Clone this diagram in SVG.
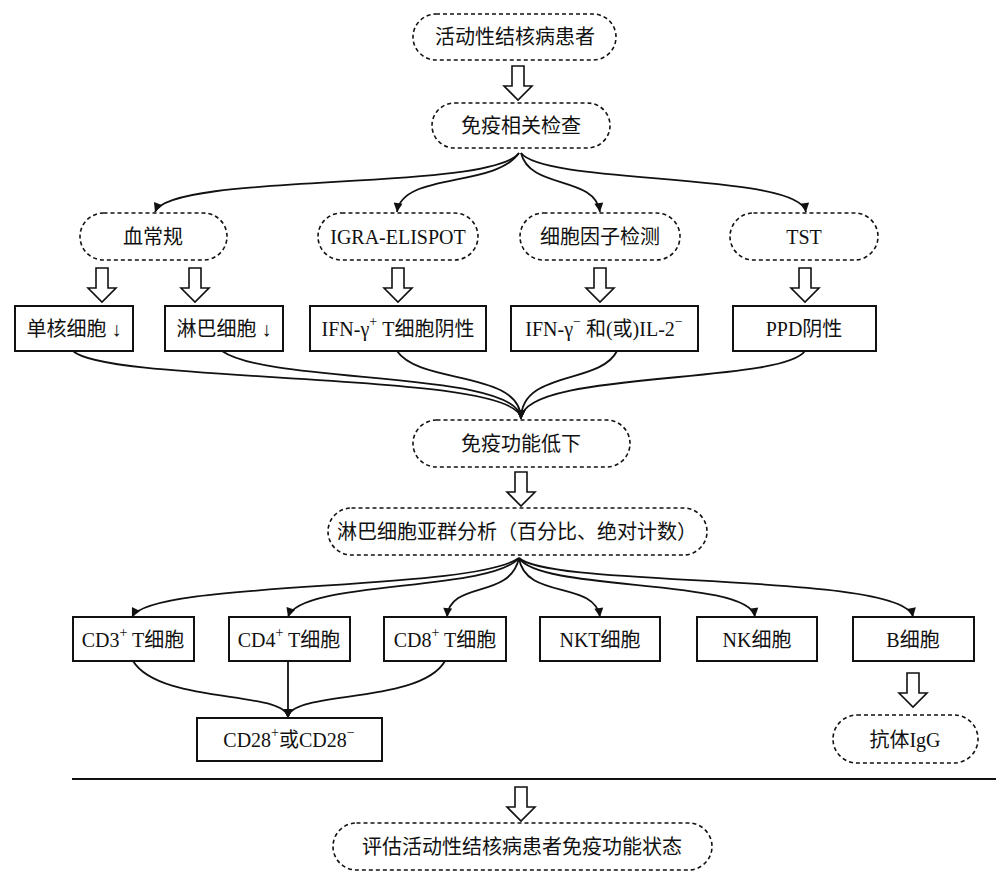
<svg xmlns="http://www.w3.org/2000/svg" xmlns:xlink="http://www.w3.org/1999/xlink" width="996" height="875" viewBox="0 0 996 875">
<style>
text{font-family:"Liberation Serif","Noto Sans CJK SC",serif;font-size:20px;fill:#111;text-anchor:middle;dominant-baseline:central}
.pill{fill:#fff;stroke:#111;stroke-width:1.6;stroke-dasharray:4 3}
.box{fill:#fff;stroke:#111;stroke-width:2}
.edge{fill:none;stroke:#111;stroke-width:1.8;marker-end:url(#ah)}
.hol{fill:#fff;stroke:#111;stroke-width:1.6}
.sup{font-size:14px}
</style>
<defs>
<marker id="ah" viewBox="0 0 10 10" refX="10" refY="5" markerWidth="11" markerHeight="9" markerUnits="userSpaceOnUse" orient="auto">
<path d="M0,0 L10,5 L0,10 Z" fill="#111"/>
</marker>
<path id="hollow" class="hol" d="M-6,0 H6 V20 H14 L0,34 L-14,20 H-6 Z"/>
</defs>
<rect width="996" height="875" fill="#fff"/>

<g id="connectors">
<path class="edge" d="M519,153 C490,192 170,172 155,212"/>
<path class="edge" d="M519,153 C495,188 402,172 397,212"/>
<path class="edge" d="M521,153 C530,190 595,175 600,212"/>
<path class="edge" d="M521,153 C545,185 800,172 806,212"/>
<path class="edge" d="M73,351 C110,385 521,370 521,419"/>
<path class="edge" d="M222,351 C270,385 521,370 521,419"/>
<path class="edge" d="M397,351 C420,385 521,370 521,419"/>
<path class="edge" d="M617,351 C600,385 521,370 521,419"/>
<path class="edge" d="M805,351 C780,385 521,370 521,419"/>
<path class="edge" d="M519,558 C470,592 150,580 132,617"/>
<path class="edge" d="M519,558 C490,592 300,580 288,617"/>
<path class="edge" d="M519,558 C510,600 450,580 447,617"/>
<path class="edge" d="M519,558 C525,600 595,580 600,617"/>
<path class="edge" d="M519,558 C540,592 750,578 755,617"/>
<path class="edge" d="M519,558 C550,588 905,572 913,617"/>
<path class="edge" d="M133,661 C160,705 288,690 288,718"/>
<path class="edge" d="M288,661 L288,718"/>
<path class="edge" d="M445,661 C420,705 288,690 288,718"/>
<use xlink:href="#hollow" x="518" y="66"/>
<use xlink:href="#hollow" x="102" y="268"/>
<use xlink:href="#hollow" x="195" y="268"/>
<use xlink:href="#hollow" x="398" y="268"/>
<use xlink:href="#hollow" x="600" y="268"/>
<use xlink:href="#hollow" x="805" y="268"/>
<use xlink:href="#hollow" x="521" y="472"/>
<use xlink:href="#hollow" x="913" y="673"/>
<use xlink:href="#hollow" x="521" y="787"/>
<line x1="72" y1="779" x2="996" y2="779" stroke="#111" stroke-width="2"/>
</g>

<g id="n_patient"><rect class="pill" x="413" y="14" width="203" height="46" rx="23"/><text x="515" y="37">活动性结核病患者</text></g>
<g id="n_immune_check"><rect class="pill" x="432" y="103" width="178" height="45" rx="22.5"/><text x="521" y="126">免疫相关检查</text></g>
<g id="n_blood"><rect class="pill" x="80" y="213" width="147" height="47" rx="23.5"/><text x="153" y="237">血常规</text></g>
<g id="n_igra"><rect class="pill" x="318" y="213" width="160" height="47" rx="23.5"/><text x="398" y="237">IGRA-ELISPOT</text></g>
<g id="n_cytokine"><rect class="pill" x="520" y="213" width="160" height="47" rx="23.5"/><text x="600" y="237">细胞因子检测</text></g>
<g id="n_tst"><rect class="pill" x="730" y="213" width="148" height="47" rx="23.5"/><text x="804" y="237">TST</text></g>

<g id="n_mono"><rect class="box" x="15" y="306" width="118" height="45"/><text x="74" y="329">单核细胞 ↓</text></g>
<g id="n_lympho"><rect class="box" x="165" y="306" width="118" height="45"/><text x="224" y="329">淋巴细胞 ↓</text></g>
<g id="n_ifn_pos"><rect class="box" x="310" y="306" width="176" height="45"/><text x="398" y="329">IFN-γ<tspan class="sup" baseline-shift="super">+</tspan> T细胞阴性</text></g>
<g id="n_ifn_neg"><rect class="box" x="511" y="306" width="187" height="45"/><text x="604" y="329">IFN-γ<tspan class="sup" baseline-shift="super">−</tspan> 和(或)IL-2<tspan class="sup" baseline-shift="super">−</tspan></text></g>
<g id="n_ppd"><rect class="box" x="733" y="306" width="143" height="45"/><text x="804" y="329">PPD阴性</text></g>

<g id="n_low"><rect class="pill" x="413" y="420" width="217" height="47" rx="23.5"/><text x="521" y="444">免疫功能低下</text></g>
<g id="n_subset"><rect class="pill" x="328" y="508" width="379" height="47" rx="23.5"/><text x="517" y="532">淋巴细胞亚群分析（百分比、绝对计数）</text></g>

<g id="n_cd3"><rect class="box" x="73" y="617" width="121" height="44"/><text x="133" y="640">CD3<tspan class="sup" baseline-shift="super">+</tspan> T细胞</text></g>
<g id="n_cd4"><rect class="box" x="229" y="617" width="121" height="44"/><text x="289" y="640">CD4<tspan class="sup" baseline-shift="super">+</tspan> T细胞</text></g>
<g id="n_cd8"><rect class="box" x="384" y="617" width="122" height="44"/><text x="445" y="640">CD8<tspan class="sup" baseline-shift="super">+</tspan> T细胞</text></g>
<g id="n_nkt"><rect class="box" x="540" y="617" width="120" height="44"/><text x="600" y="640">NKT细胞</text></g>
<g id="n_nk"><rect class="box" x="697" y="617" width="120" height="44"/><text x="757" y="640">NK细胞</text></g>
<g id="n_b"><rect class="box" x="853" y="617" width="121" height="44"/><text x="913" y="640">B细胞</text></g>

<g id="n_cd28"><rect class="box" x="197" y="718" width="185" height="43"/><text x="289" y="740">CD28<tspan class="sup" baseline-shift="super">+</tspan>或CD28<tspan class="sup" baseline-shift="super">−</tspan></text></g>
<g id="n_igg"><rect class="pill" x="833" y="715" width="145" height="48" rx="24"/><text x="905" y="740">抗体IgG</text></g>

<g id="n_assess"><rect class="pill" x="333" y="823" width="379" height="47" rx="23.5"/><text x="522" y="847">评估活动性结核病患者免疫功能状态</text></g>
</svg>
